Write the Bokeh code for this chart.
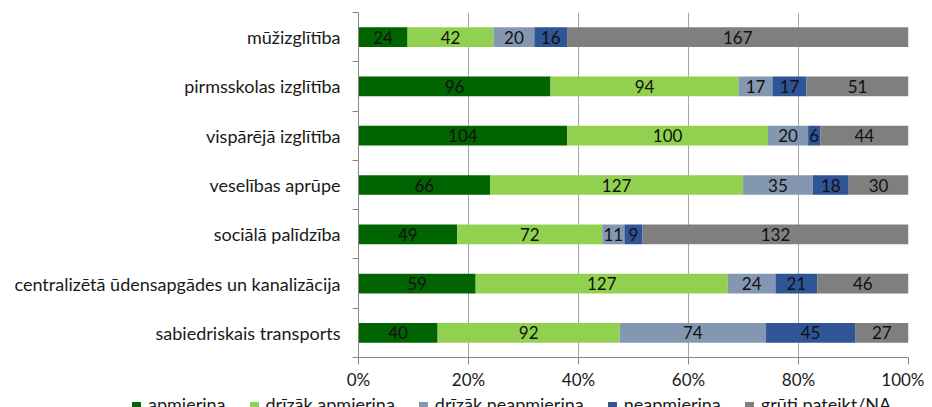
from bokeh.plotting import figure
from bokeh.layouts import column
from bokeh.models import (Range1d, FixedTicker, ColumnDataSource, NumeralTickFormatter, Div)
from bokeh.core.properties import value
from bokeh.embed import file_html
from bokeh.resources import INLINE

categories = ["mūžizglītība", "pirmsskolas izglītība", "vispārējā izglītība",
              "veselības aprūpe", "sociālā palīdzība",
              "centralizētā ūdensapgādes un kanalizācija", "sabiedriskais transports"]
series = ["apmierina", "drīzāk apmierina", "drīzāk neapmierina", "neapmierina",
          "grūti pateikt/NA"]
apmierina = [24, 96, 104, 66, 49, 59, 40]
drizak_apmierina = [42, 94, 100, 127, 72, 127, 92]
drizak_neapmierina = [20, 17, 20, 35, 11, 24, 74]
neapmierina = [16, 17, 6, 18, 9, 21, 45]
gruti = [167, 51, 44, 30, 132, 46, 27]
x_ticks = [0, 0.2, 0.4, 0.6, 0.8, 1.0]

colors = ["#006400", "#92D050", "#8497B0", "#2F5597", "#7F7F7F"]
FONT = "Lato"
FS_CAT = "18px"
FS = "17px"

data = [apmierina, drizak_apmierina, drizak_neapmierina, neapmierina, gruti]
n = len(categories)
totals = [sum(d[i] for d in data) for i in range(n)]
ypos = [n - 0.5 - i for i in range(n)]

p = figure(output_backend="svg", toolbar_location=None,
           width=924, height=392,
           min_border_left=358, min_border_right=16, min_border_top=12,
           min_border_bottom=0,
           x_range=Range1d(0, 1), y_range=Range1d(0, n))
p.outline_line_color = None
p.background_fill_color = "white"

left = [0.0] * n
for s, d, c in zip(series, data, colors):
    frac = [d[i] / totals[i] for i in range(n)]
    right = [left[i] + frac[i] for i in range(n)]
    src = ColumnDataSource(dict(y=ypos, left=left, right=right,
                                mid=[(left[i] + right[i]) / 2 for i in range(n)],
                                lab=[str(v) for v in d]))
    p.hbar(y="y", left="left", right="right", height=0.4, source=src,
           fill_color=c, line_color=None)
    p.text(x="mid", y="y", text="lab", source=src, text_align="center",
           text_baseline="middle", text_font=value(FONT), text_font_size=FS,
           text_color="#111111")
    left = right

xa = p.xaxis[0]
xa.ticker = FixedTicker(ticks=x_ticks)
xa.formatter = NumeralTickFormatter(format="0%")
xa.axis_line_color = "#868686"
xa.major_tick_line_color = "#868686"
xa.major_tick_out = 7
xa.major_tick_in = 0
xa.minor_tick_line_color = None
xa.major_label_standoff = 4
xa.major_label_text_font = FONT
xa.major_label_text_font_size = FS
xa.major_label_text_color = "#1a1a1a"

ya = p.yaxis[0]
ya.ticker = FixedTicker(ticks=ypos, minor_ticks=list(range(n + 1)))
ya.major_label_overrides = {y: c for y, c in zip(ypos, categories)}
ya.axis_line_color = "#868686"
ya.major_tick_line_color = None
ya.major_tick_out = 0
ya.major_tick_in = 0
ya.minor_tick_line_color = "#868686"
ya.minor_tick_out = 6
ya.minor_tick_in = 0
ya.major_label_standoff = 12
ya.major_label_text_font = FONT
ya.major_label_text_font_size = FS_CAT
ya.major_label_text_color = "#1a1a1a"

p.ygrid.grid_line_color = None
p.xgrid.grid_line_color = "#a6a6a6"

# legend row (HTML text) under the chart
items_html = "".join(
    f'<span style="display:inline-block;width:9px;height:9px;background:{c};'
    f'margin-right:7px;vertical-align:0px;"></span>'
    f'<span style="margin-right:24px;">{s}</span>'
    for s, c in zip(series, colors))
legend_html = (f'<div style="font-family:Lato;font-size:18px;line-height:15px;'
               f'color:#1a1a1a;white-space:nowrap;padding-left:127px;'
               f'height:15px;overflow:hidden;">{items_html}</div>')
lg = Div(text=legend_html, width=924, height=15, styles={"overflow": "hidden"})

open("out.html", "w").write(file_html(column(p, lg), INLINE))
